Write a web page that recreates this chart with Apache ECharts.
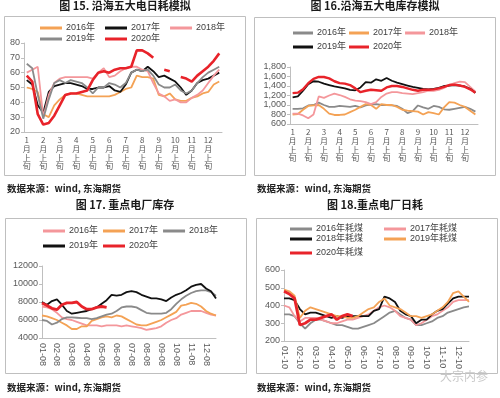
<!DOCTYPE html>
<html>
<head>
<meta charset="utf-8">
<script src="https://cdn.jsdelivr.net/npm/echarts@6/dist/echarts.min.js"></script>
<style>
  body { margin: 0; background: #fff; }
  .panel { position: absolute; width: 250px; }
  #fig15 { left: 0; top: 0; height: 195px; }
  #fig16 { left: 250px; top: 0; height: 195px; }
  #fig17 { left: 0; top: 195px; height: 203px; }
  #fig18 { left: 250px; top: 195px; height: 203px; }
</style>
</head>
<body>
<div class="panel" id="fig15"></div>
<div class="panel" id="fig16"></div>
<div class="panel" id="fig17"></div>
<div class="panel" id="fig18"></div>
<script>
// x categories
const monthNums = ['1', '2', '3', '4', '5', '6', '7', '8', '9', '10', '11', '12']
const xunNames = ['上旬', '中旬', '下旬']
const monthPads = ['01', '02', '03', '04', '05', '06', '07', '08', '09', '10', '11', '12']
const days17 = ['08', '18', '28']
const days18 = ['10', '20', '30']

const xunCats = []
const cats17 = []
const cats18 = []
monthNums.forEach((m, k) => {
  xunNames.forEach(x => xunCats.push(m + '月' + x))
  days17.forEach(d => cats17.push(monthPads[k] + '-' + d))
  days18.forEach(d => cats18.push(monthPads[k] + '-' + d))
})

// 图15 沿海五大电日耗模拟
const burn2016 = [50, 49, 47, 32, 30, 38, 42, 45, 46, 46, 45, 44, 44, 44, 44, 44, 45, 47, 49, 50, 58, 57, 57, 56, 45, 44, 46, 42, 41, 41, 43, 44, 46, 47, 52, 54]
const burn2017 = [55, 52, 38, 33, 47, 51, 52, 53, 53, 52, 51, 49, 49, 50, 50, 51, 48, 47, 52, 60, 62, 61, 64, 61, 57, 58, 56, 54, 50, 45, 48, 53, 55, 56, 58, 60]
const burn2018 = [60, 62, 64, 30, 45, 53, 56, 57, 57, 57, 57, 57, 56, 60, 63, 57, 58, 61, 63, 64, 64, 62, 61, 53, 46, 44, 41, 42, 40, 40, 43, 45, 48, 53, 58, 62]
const burn2019 = [66, 63, 45, 29, 42, 53, 55, 53, 55, 54, 53, 50, 46, 50, 50, 53, 52, 50, 53, 60, 62, 61, 62, 58, 52, 50, 50, 52, 48, 46, 48, 53, 57, 60, 62, 64]
const burn2020 = [58, 54, 32, 25, 26, 31, 38, 45, 46, 46, 47, 48, 55, 60, 61, 60, 62, 63, 63, 64, 75, 75, 73, 70, null, 62, 61, null, 57, 56, 54, 58, 61, 64, 68, 73]

// 图16 沿海五大电库存模拟
const stock2016 = [920, 920, 930, 990, 1000, 1050, 1000, 960, 960, 980, 970, 960, 980, 950, 990, 1010, 1020, 1000, 1000, 990, 980, 920, 830, 870, 990, 950, 920, 980, 960, 910, 900, 920, 940, 960, 920, 860]
const stock2017 = [800, 810, 900, 980, 990, 1000, 920, 820, 790, 790, 800, 850, 900, 960, 1020, 1000, 920, 1020, 1000, 1000, 960, 900, 880, 870, 860, 800, 850, 830, 800, 950, 1060, 1050, 1000, 960, 880, 800]
const stock2018 = [820, 820, 780, 720, 800, 1180, 1150, 1200, 1240, 1210, 1170, 1120, 1090, 1080, 1060, 1020, 1060, 1170, 1240, 1270, 1270, 1250, 1240, 1230, 1250, 1270, 1300, 1300, 1320, 1360, 1420, 1460, 1490, 1480, 1380, 1280]
const stock2019 = [1160, 1180, 1300, 1440, 1500, 1490, 1450, 1420, 1390, 1370, 1350, 1320, 1310, 1370, 1480, 1470, 1540, 1510, 1570, 1510, 1470, 1440, 1410, 1380, 1360, 1340, 1330, 1340, 1360, 1400, 1410, 1420, 1410, 1390, 1340, 1260]
const stock2020 = [1250, 1260, 1330, 1460, 1550, 1590, 1590, 1560, 1500, 1460, 1450, 1420, 1350, 1270, 1300, 1320, 1310, 1300, 1370, 1400, 1400, 1380, 1350, 1320, 1300, 1320, 1320, 1330, 1350, 1380, 1420, 1430, 1410, 1380, 1330, 1260]

// 图17 重点电厂库存
const plantStock2016 = [7500, 7400, 7200, 6800, 6300, 6100, 6000, 5800, 5600, 5400, 5400, 5400, 5300, 5400, 5400, 5400, 5300, 5400, 5300, 5200, 5100, 4900, 5000, 5100, 5300, 5700, 6000, 6200, 6600, 6800, 7000, 7000, 7000, 6800, 6600, 6500]
const plantStock2017 = [6500, 6400, 6200, 6000, 5700, 5400, 5000, 5000, 5300, 5300, 5900, 6100, 6300, 6400, 6300, 6500, 6400, 6100, 5800, 5500, 5400, 5400, 5600, 5800, 6000, 6300, 6600, 6900, 7600, 7700, 7900, 7800, 7500, 7000, 6700, 6500]
const plantStock2018 = [6000, 5900, 5500, 5700, 6100, 6300, 6300, 6250, 6200, 6200, 6100, 6200, 6400, 6600, 6700, 7000, 7400, 7500, 7500, 7400, 7100, 6800, 6700, 6700, 6700, 6800, 7200, 7800, 8300, 8700, 9000, 9200, 9300, 9300, 9100, 8700]
const plantStock2019 = [8000, 7700, 8100, 8300, 7700, 7000, 6700, 6800, 6900, 7000, 7200, 7400, 7800, 8200, 8800, 8700, 8800, 9100, 9200, 9100, 8800, 8600, 8400, 8400, 8300, 8100, 8500, 8800, 9000, 9300, 9700, 9900, 10000, 9500, 9200, 8400]
const plantStock2020 = [7900, 7600, 7300, 7150, 7700, 7900, 7900, 8000, 7500, 7200, 7200, 7400, 7500, 7400]

// 图18 重点电厂日耗
const plantBurn2016 = [350, 350, 340, 300, 270, 300, 320, 320, 310, 300, 290, 290, 280, 270, 270, 280, 290, 300, 320, 340, 360, 370, 350, 330, 320, 290, 290, 300, 310, 330, 340, 360, 370, 380, 390, 395]
const plantBurn2017 = [400, 390, 340, 310, 330, 330, 330, 320, 310, 300, 300, 310, 320, 320, 330, 340, 350, 370, 390, 400, 390, 370, 340, 330, 320, 290, 300, 320, 340, 350, 370, 390, 420, 430, 430, 430]
const plantBurn2018 = [440, 440, 430, 380, 350, 360, 360, 350, 340, 330, 340, 330, 340, 340, 340, 340, 340, 370, 380, 450, 440, 420, 370, 350, 340, 300, 320, 320, 350, 370, 380, 410, 440, 450, 450, 450]
const plantBurn2019 = [490, 480, 455, 330, 370, 390, 380, 370, 360, 350, 340, 340, 330, 330, 340, 360, 380, 390, 420, 440, 400, 390, 380, 360, 340, 340, 330, 340, 350, 370, 390, 420, 470, 480, 450, 420]
const plantBurn2020 = [480, 465, 440, 290, 300, 320, 320, 330, 340, 350, 320, 340, 350, 340]

const BLACK = '#111111'
const RED = '#e8232a'
const GRAY = '#8a8a8a'
const ORANGE = '#f4a255'
const PINK = '#f4979b'
const AXIS = '#bfbfbf'
const LABEL = '#595959'
const FONT = '"Liberation Sans", "Noto Sans CJK SC", sans-serif'
const CJK = '"Noto Sans CJK SC", sans-serif'

const line = (name, data, color, width) => ({
  name,
  type: 'line',
  data,
  symbol: 'none',
  color,
  lineStyle: { color, width: width || 1.8 },
  z: width ? 5 : 2
})

const legendRow = (names, left, top, gap, iconW) => ({
  data: names,
  left,
  top,
  padding: 0,
  itemGap: gap,
  itemWidth: iconW || 22,
  itemHeight: 3,
  icon: 'rect',
  selectedMode: false,
  textStyle: { fontSize: 9, color: '#404040', fontFamily: FONT, lineHeight: 11, padding: [0, 0, 0, -1] }
})

const frame = (x, y, w, h, srcTop) => [
  {
    type: 'rect',
    shape: { x: x + 0.5, y: y + 0.5, width: w, height: h },
    style: { fill: 'none', stroke: AXIS, lineWidth: 1 },
    silent: true
  },
  {
    type: 'text',
    left: 7,
    top: srcTop,
    style: { text: '数据来源：wind, 东海期货', fontSize: 9.5, fontWeight: 'bold', fill: '#222', fontFamily: CJK }
  }
]

const plain = v => String(v)

const yAxisOf = (min, max, interval, formatter) => ({
  type: 'value',
  min,
  max,
  interval,
  axisLine: { show: true, lineStyle: { color: AXIS } },
  axisTick: { show: true, length: 3, lineStyle: { color: AXIS } },
  splitLine: { show: false },
  axisLabel: { fontSize: 9, color: LABEL, margin: 4, fontFamily: FONT, formatter: formatter || plain }
})

// 1月上旬 -> 竖排
const stackLabel = v => v.match(/\d+|./g).join('\n')

const xunAxis = () => ({
  type: 'category',
  data: xunCats,
  boundaryGap: true,
  axisLine: { lineStyle: { color: AXIS } },
  axisTick: { show: false },
  axisLabel: {
    interval: 2,
    fontSize: 8,
    lineHeight: 8.6,
    color: LABEL,
    margin: 4,
    fontFamily: CJK,
    formatter: stackLabel
  }
})

const dateAxis = cats => ({
  type: 'category',
  data: cats,
  boundaryGap: false,
  axisLine: { lineStyle: { color: AXIS } },
  axisTick: { show: false },
  axisLabel: {
    interval: 2,
    rotate: -90,
    fontSize: 9,
    color: LABEL,
    margin: 5,
    fontFamily: FONT
  }
})

const titleOf = (text, top) => ({
  text,
  left: 'center',
  top,
  padding: 0,
  textStyle: { fontSize: 11, fontWeight: 'bold', color: '#1a1a1a', fontFamily: CJK }
})

const chart15 = () => {
  const myChart = echarts.init(document.getElementById('fig15'))
  myChart.setOption({
    animation: false,
    title: titleOf('图 15. 沿海五大电日耗模拟', 0),
    legend: [
      legendRow(['2016年', '2017年', '2018年'], 40, 22.5, 10),
      legendRow(['2019年', '2020年'], 40, 33.5, 10)
    ],
    grid: { left: 24, top: 43, width: 198, height: 89 },
    xAxis: xunAxis(),
    yAxis: yAxisOf(20, 80, 10),
    graphic: frame(4, 16, 241, 159, 184),
    series: [
      line('2016年', burn2016, ORANGE),
      line('2017年', burn2017, BLACK),
      line('2018年', burn2018, PINK),
      line('2019年', burn2019, GRAY),
      line('2020年', burn2020, RED, 2.6)
    ]
  })
}

const chart16 = () => {
  const myChart = echarts.init(document.getElementById('fig16'))
  myChart.setOption({
    animation: false,
    title: titleOf('图 16.沿海五大电库存模拟', 0),
    legend: [
      legendRow(['2016年', '2017年', '2018年'], 43, 27.5, 3, 20),
      legendRow(['2019年', '2020年'], 43, 41.5, 3, 20)
    ],
    grid: { left: 40, top: 67, width: 188, height: 57 },
    xAxis: xunAxis(),
    yAxis: yAxisOf(600, 1800, 200, v => v.toLocaleString('en-US')),
    graphic: frame(4, 17, 241, 158, 184),
    series: [
      line('2016年', stock2016, GRAY),
      line('2017年', stock2017, ORANGE),
      line('2018年', stock2018, PINK),
      line('2019年', stock2019, BLACK),
      line('2020年', stock2020, RED, 2.4)
    ]
  })
}

const chart17 = () => {
  const myChart = echarts.init(document.getElementById('fig17'))
  myChart.setOption({
    animation: false,
    title: titleOf('图 17. 重点电厂库存', 4),
    legend: [
      legendRow(['2016年', '2017年', '2018年'], 43, 30.5, 5),
      legendRow(['2019年', '2020年'], 43, 45.5, 5)
    ],
    grid: { left: 42, top: 71, width: 174, height: 72 },
    xAxis: dateAxis(cats17),
    yAxis: yAxisOf(4000, 12000, 2000),
    graphic: frame(5, 23, 241, 155, 188),
    series: [
      line('2016年', plantStock2016, PINK),
      line('2017年', plantStock2017, ORANGE),
      line('2018年', plantStock2018, GRAY),
      line('2019年', plantStock2019, BLACK),
      line('2020年', plantStock2020, RED, 2.8)
    ]
  })
}

const chart18 = () => {
  const myChart = echarts.init(document.getElementById('fig18'))
  const gfx = frame(6, 23, 241, 155, 188)
  gfx.push({
    type: 'text',
    left: 190,
    top: 175,
    style: { text: '大宗内参', fontSize: 12, fill: '#c8c8c8', fontFamily: CJK }
  })
  myChart.setOption({
    animation: false,
    title: titleOf('图 18.重点电厂日耗', 4),
    legend: [
      legendRow(['2016年耗煤', '2017年耗煤'], 40, 28.5, 21),
      legendRow(['2018年耗煤', '2019年耗煤'], 40, 38.5, 21),
      legendRow(['2020年耗煤'], 40, 52.5, 21)
    ],
    grid: { left: 34, top: 75, width: 185, height: 71 },
    xAxis: dateAxis(cats18),
    yAxis: yAxisOf(200, 600, 100),
    graphic: gfx,
    series: [
      line('2016年耗煤', plantBurn2016, GRAY),
      line('2017年耗煤', plantBurn2017, PINK),
      line('2018年耗煤', plantBurn2018, BLACK),
      line('2019年耗煤', plantBurn2019, ORANGE),
      line('2020年耗煤', plantBurn2020, RED, 2.8)
    ]
  })
}

chart15()
chart16()
chart17()
chart18()
</script>
</body>
</html>
